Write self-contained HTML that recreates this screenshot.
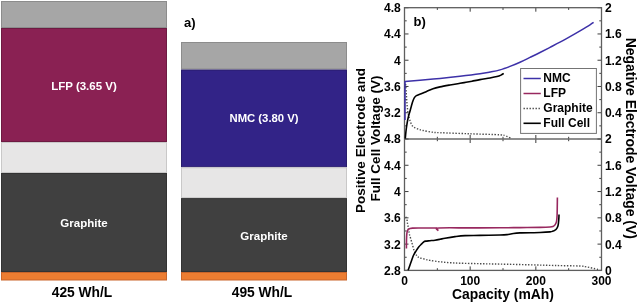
<!DOCTYPE html>
<html><head><meta charset="utf-8"><style>
html,body{margin:0;padding:0;background:#fff;width:637px;height:303px;overflow:hidden;}
svg{display:block;will-change:transform;}
</style></head><body>
<svg width="637" height="303" viewBox="0 0 637 303">
<rect x="1.5" y="1.5" width="165" height="26" fill="#a6a6a6" stroke="#8c8c8c" stroke-width="1"/>
<rect x="1.5" y="28.5" width="165" height="113" fill="#8a2153" stroke="#6e1a42" stroke-width="1"/>
<rect x="1.5" y="142.5" width="165" height="30" fill="#e7e6e6" stroke="#c9c8c8" stroke-width="1"/>
<rect x="1.5" y="173.5" width="165" height="98" fill="#404040" stroke="#333333" stroke-width="1"/>
<rect x="1.5" y="272.5" width="165" height="7.5" fill="#ed7d31" stroke="#c9652a" stroke-width="1"/>
<rect x="181.5" y="42.5" width="165" height="26.5" fill="#a6a6a6" stroke="#8c8c8c" stroke-width="1"/>
<rect x="181.5" y="70.0" width="165" height="96.80000000000001" fill="#322387" stroke="#281c6c" stroke-width="1"/>
<rect x="181.5" y="167.8" width="165" height="29.799999999999983" fill="#e7e6e6" stroke="#c9c8c8" stroke-width="1"/>
<rect x="181.5" y="198.6" width="165" height="72.9" fill="#404040" stroke="#333333" stroke-width="1"/>
<rect x="181.5" y="272.5" width="165" height="7.5" fill="#ed7d31" stroke="#c9652a" stroke-width="1"/>
<text x="84" y="89.5" font-family="&quot;Liberation Sans&quot;, sans-serif" font-weight="bold" font-size="11.5" fill="#fff" text-anchor="middle">LFP (3.65 V)</text>
<text x="84" y="227.3" font-family="&quot;Liberation Sans&quot;, sans-serif" font-weight="bold" font-size="11.5" fill="#fff" text-anchor="middle">Graphite</text>
<text x="82" y="296.8" font-family="&quot;Liberation Sans&quot;, sans-serif" font-weight="bold" font-size="13.8" fill="#000" text-anchor="middle">425 Wh/L</text>
<text x="264" y="122.3" font-family="&quot;Liberation Sans&quot;, sans-serif" font-weight="bold" font-size="11.3" fill="#fff" text-anchor="middle">NMC (3.80 V)</text>
<text x="264" y="239.8" font-family="&quot;Liberation Sans&quot;, sans-serif" font-weight="bold" font-size="11.5" fill="#fff" text-anchor="middle">Graphite</text>
<text x="262" y="296.6" font-family="&quot;Liberation Sans&quot;, sans-serif" font-weight="bold" font-size="13.8" fill="#000" text-anchor="middle">495 Wh/L</text>
<text x="184" y="26.5" font-family="&quot;Liberation Sans&quot;, sans-serif" font-weight="bold" font-size="13" fill="#000">a)</text>
<path d="M404.5,7.70h4 M601.5,7.70h-4 M404.5,20.83h2.2 M601.5,20.83h-2.2 M404.5,33.96h4 M601.5,33.96h-4 M404.5,47.09h2.2 M601.5,47.09h-2.2 M404.5,60.22h4 M601.5,60.22h-4 M404.5,73.35h2.2 M601.5,73.35h-2.2 M404.5,86.48h4 M601.5,86.48h-4 M404.5,99.61h2.2 M601.5,99.61h-2.2 M404.5,112.74h4 M601.5,112.74h-4 M404.5,125.87h2.2 M601.5,125.87h-2.2 M404.5,139.00h4 M601.5,139.00h-4 M404.50,7.7v4 M404.50,139.0v-4 M437.33,7.7v2.2 M437.33,139.0v-2.2 M470.17,7.7v4 M470.17,139.0v-4 M503.00,7.7v2.2 M503.00,139.0v-2.2 M535.83,7.7v4 M535.83,139.0v-4 M568.67,7.7v2.2 M568.67,139.0v-2.2 M601.50,7.7v4 M601.50,139.0v-4 M404.5,139.00h4 M601.5,139.00h-4 M404.5,152.14h2.2 M601.5,152.14h-2.2 M404.5,165.28h4 M601.5,165.28h-4 M404.5,178.42h2.2 M601.5,178.42h-2.2 M404.5,191.56h4 M601.5,191.56h-4 M404.5,204.70h2.2 M601.5,204.70h-2.2 M404.5,217.84h4 M601.5,217.84h-4 M404.5,230.98h2.2 M601.5,230.98h-2.2 M404.5,244.12h4 M601.5,244.12h-4 M404.5,257.26h2.2 M601.5,257.26h-2.2 M404.5,270.40h4 M601.5,270.40h-4 M404.50,139.0v4 M404.50,270.4v-4 M437.33,139.0v2.2 M437.33,270.4v-2.2 M470.17,139.0v4 M470.17,270.4v-4 M503.00,139.0v2.2 M503.00,270.4v-2.2 M535.83,139.0v4 M535.83,270.4v-4 M568.67,139.0v2.2 M568.67,270.4v-2.2 M601.50,139.0v4 M601.50,270.4v-4" stroke="#3c3c3c" stroke-width="1" fill="none"/>
<rect x="404.5" y="7.7" width="197.0" height="262.7" fill="none" stroke="#5e5e5e" stroke-width="1.3"/>
<line x1="404.5" y1="139.0" x2="601.5" y2="139.0" stroke="#6a6a6a" stroke-width="1.5"/>
<path d="M405.60,84.00 C405.70,85.33 406.02,89.50 406.20,92.00 C406.38,94.50 406.53,96.67 406.70,99.00 C406.87,101.33 406.98,103.78 407.20,106.00 C407.42,108.22 407.67,110.35 408.00,112.30 C408.33,114.25 408.77,116.03 409.20,117.70 C409.63,119.37 409.97,120.83 410.60,122.30 C411.23,123.77 411.85,125.42 413.00,126.50 C414.15,127.58 415.83,128.13 417.50,128.80 C419.17,129.47 420.42,129.92 423.00,130.50 C425.58,131.08 430.17,131.93 433.00,132.30 C435.83,132.67 433.83,132.45 440.00,132.70 C446.17,132.95 460.00,133.45 470.00,133.80 C480.00,134.15 494.17,134.48 500.00,134.80 C505.83,135.12 503.67,135.37 505.00,135.70 C506.33,136.03 507.00,136.38 508.00,136.80 C509.00,137.22 510.50,137.97 511.00,138.20" stroke="#4a4a4a" stroke-width="1.4" stroke-dasharray="1.4 1.6" fill="none"/>
<path d="M405.80,216.80 C406.00,217.33 406.73,218.98 407.00,220.00 C407.27,221.02 407.23,221.93 407.40,222.90 C407.57,223.87 407.83,224.82 408.00,225.80 C408.17,226.78 408.25,227.88 408.40,228.80 C408.55,229.72 408.73,230.38 408.90,231.30 C409.07,232.22 409.12,233.13 409.40,234.30 C409.68,235.47 410.07,236.47 410.60,238.30 C411.13,240.13 411.92,242.98 412.60,245.30 C413.28,247.62 413.88,250.35 414.70,252.20 C415.52,254.05 416.62,255.45 417.50,256.40 C418.38,257.35 418.75,257.43 420.00,257.90 C421.25,258.37 423.33,258.78 425.00,259.20 C426.67,259.62 427.50,259.97 430.00,260.40 C432.50,260.83 436.67,261.42 440.00,261.80 C443.33,262.18 446.67,262.47 450.00,262.70 C453.33,262.93 455.00,263.03 460.00,263.20 C465.00,263.37 473.33,263.55 480.00,263.70 C486.67,263.85 491.67,263.92 500.00,264.10 C508.33,264.28 520.83,264.57 530.00,264.80 C539.17,265.03 546.67,265.30 555.00,265.50 C563.33,265.70 575.00,265.82 580.00,266.00 C585.00,266.18 583.33,266.33 585.00,266.60 C586.67,266.87 588.33,267.23 590.00,267.60 C591.67,267.97 593.67,268.48 595.00,268.80 C596.33,269.12 597.50,269.38 598.00,269.50" stroke="#4a4a4a" stroke-width="1.4" stroke-dasharray="1.4 1.6" fill="none"/>
<path d="M405.00,120.00 C405.00,113.58 405.00,87.92 405.00,81.50 C407.50,81.28 414.17,80.72 420.00,80.20 C425.83,79.68 433.33,79.05 440.00,78.40 C446.67,77.75 453.33,77.07 460.00,76.30 C466.67,75.53 475.00,74.50 480.00,73.80 C485.00,73.10 486.67,72.75 490.00,72.10 C493.33,71.45 496.67,70.85 500.00,69.90 C503.33,68.95 506.67,67.68 510.00,66.40 C513.33,65.12 516.67,63.70 520.00,62.20 C523.33,60.70 526.67,59.02 530.00,57.40 C533.33,55.78 536.67,54.17 540.00,52.50 C543.33,50.83 546.67,49.12 550.00,47.40 C553.33,45.68 556.67,44.00 560.00,42.20 C563.33,40.40 566.67,38.50 570.00,36.60 C573.33,34.70 576.67,32.77 580.00,30.80 C583.33,28.83 587.73,26.22 590.00,24.80 C592.27,23.38 593.00,22.72 593.60,22.30" stroke="#3d31a8" stroke-width="1.5" fill="none" stroke-linejoin="round"/>
<path d="M405.30,138.60 C405.40,137.50 405.68,134.02 405.90,132.00 C406.12,129.98 406.33,128.33 406.60,126.50 C406.87,124.67 407.17,122.75 407.50,121.00 C407.83,119.25 408.20,117.58 408.60,116.00 C409.00,114.42 409.43,113.17 409.90,111.50 C410.37,109.83 410.90,107.75 411.40,106.00 C411.90,104.25 412.40,102.40 412.90,101.00 C413.40,99.60 413.82,98.50 414.40,97.60 C414.98,96.70 415.27,96.25 416.40,95.60 C417.53,94.95 419.50,94.40 421.20,93.70 C422.90,93.00 424.63,92.23 426.60,91.40 C428.57,90.57 430.77,89.45 433.00,88.70 C435.23,87.95 437.17,87.52 440.00,86.90 C442.83,86.28 446.67,85.60 450.00,85.00 C453.33,84.40 457.33,83.75 460.00,83.30 C462.67,82.85 464.00,82.65 466.00,82.30 C468.00,81.95 469.67,81.65 472.00,81.20 C474.33,80.75 477.00,80.13 480.00,79.60 C483.00,79.07 487.17,78.50 490.00,78.00 C492.83,77.50 495.17,77.08 497.00,76.60 C498.83,76.12 499.88,75.63 501.00,75.10 C502.12,74.57 503.25,73.68 503.70,73.40" stroke="#000" stroke-width="1.6" fill="none" stroke-linejoin="round"/>
<path d="M408.10,270.30 C408.52,269.13 409.73,265.73 410.60,263.30 C411.47,260.87 412.38,257.78 413.30,255.70 C414.22,253.62 415.17,252.30 416.10,250.80 C417.03,249.30 417.97,247.85 418.90,246.70 C419.83,245.55 420.89,244.72 421.70,243.90 C422.51,243.08 423.07,242.27 423.75,241.80 C424.43,241.33 424.76,241.28 425.80,241.10 C426.84,240.92 428.47,240.85 430.00,240.70 C431.53,240.55 433.33,240.43 435.00,240.20 C436.67,239.97 438.33,239.63 440.00,239.30 C441.67,238.97 442.50,238.65 445.00,238.20 C447.50,237.75 451.67,237.03 455.00,236.60 C458.33,236.17 460.83,235.80 465.00,235.60 C469.17,235.40 474.17,235.50 480.00,235.40 C485.83,235.30 495.50,235.13 500.00,235.00 C504.50,234.87 505.00,234.82 507.00,234.60 C509.00,234.38 509.83,233.98 512.00,233.70 C514.17,233.42 515.33,233.10 520.00,232.90 C524.67,232.70 535.00,232.67 540.00,232.50 C545.00,232.33 547.83,232.13 550.00,231.90 C552.17,231.67 552.00,231.50 553.00,231.10 C554.00,230.70 555.17,230.40 556.00,229.50 C556.83,228.60 557.53,227.43 558.00,225.70 C558.47,223.97 558.63,220.97 558.80,219.10 C558.97,217.23 558.97,215.27 559.00,214.50" stroke="#000" stroke-width="1.6" fill="none" stroke-linejoin="round"/>
<path d="M406.40,248.50 C406.42,247.08 406.43,242.42 406.50,240.00 C406.57,237.58 406.65,235.50 406.80,234.00 C406.95,232.50 407.13,231.77 407.40,231.00 C407.67,230.23 407.97,229.82 408.40,229.40 C408.83,228.98 409.32,228.72 410.00,228.50 C410.68,228.28 410.83,228.18 412.50,228.10 C414.17,228.02 418.75,228.02 420.00,228.00 C422.82,228.00 434.08,228.00 436.90,228.00 C437.07,228.38 437.73,229.92 437.90,230.30 C438.07,229.92 433.55,228.40 438.90,228.00 C444.25,227.60 459.82,227.93 470.00,227.90 C480.18,227.87 491.67,227.85 500.00,227.80 C508.33,227.75 513.33,227.67 520.00,227.60 C526.67,227.53 535.00,227.50 540.00,227.40 C545.00,227.30 547.83,227.17 550.00,227.00 C552.17,226.83 552.17,226.75 553.00,226.40 C553.83,226.05 554.42,225.70 555.00,224.90 C555.58,224.10 556.15,223.25 556.50,221.60 C556.85,219.95 556.95,219.02 557.10,215.00 C557.25,210.98 557.35,200.42 557.40,197.50" stroke="#98285f" stroke-width="1.6" fill="none" stroke-linejoin="round"/>
<rect x="520.6" y="68.5" width="75.8" height="64.9" fill="#fff" stroke="#747474" stroke-width="1"/>
<line x1="523.5" y1="78.5" x2="540.8" y2="78.5" stroke="#3d31a8" stroke-width="1.5"/>
<line x1="523.5" y1="93.5" x2="540.8" y2="93.5" stroke="#98285f" stroke-width="1.5"/>
<line x1="523.5" y1="108.5" x2="540.8" y2="108.5" stroke="#4a4a4a" stroke-width="1.4" stroke-dasharray="1.4 1.6"/>
<line x1="523.5" y1="123.3" x2="540.8" y2="123.3" stroke="#000" stroke-width="1.6"/>
<text x="543.3" y="82.4" font-family="&quot;Liberation Sans&quot;, sans-serif" font-weight="bold" font-size="12" fill="#000">NMC</text>
<text x="543.3" y="97.4" font-family="&quot;Liberation Sans&quot;, sans-serif" font-weight="bold" font-size="12" fill="#000">LFP</text>
<text x="543.3" y="112.4" font-family="&quot;Liberation Sans&quot;, sans-serif" font-weight="bold" font-size="12" fill="#000">Graphite</text>
<text x="543.3" y="127.2" font-family="&quot;Liberation Sans&quot;, sans-serif" font-weight="bold" font-size="12" fill="#000">Full Cell</text>
<text x="413.6" y="26.4" font-family="&quot;Liberation Sans&quot;, sans-serif" font-weight="bold" font-size="13" fill="#000">b)</text>
<text x="400.8" y="12.1" font-family="&quot;Liberation Sans&quot;, sans-serif" font-weight="bold" font-size="12.1" fill="#000" text-anchor="end">4.8</text>
<text x="400.8" y="38.4" font-family="&quot;Liberation Sans&quot;, sans-serif" font-weight="bold" font-size="12.1" fill="#000" text-anchor="end">4.4</text>
<text x="400.8" y="64.6" font-family="&quot;Liberation Sans&quot;, sans-serif" font-weight="bold" font-size="12.1" fill="#000" text-anchor="end">4</text>
<text x="400.8" y="90.9" font-family="&quot;Liberation Sans&quot;, sans-serif" font-weight="bold" font-size="12.1" fill="#000" text-anchor="end">3.6</text>
<text x="400.8" y="117.1" font-family="&quot;Liberation Sans&quot;, sans-serif" font-weight="bold" font-size="12.1" fill="#000" text-anchor="end">3.2</text>
<text x="400.8" y="143.4" font-family="&quot;Liberation Sans&quot;, sans-serif" font-weight="bold" font-size="12.1" fill="#000" text-anchor="end">4.8</text>
<text x="400.8" y="169.7" font-family="&quot;Liberation Sans&quot;, sans-serif" font-weight="bold" font-size="12.1" fill="#000" text-anchor="end">4.4</text>
<text x="400.8" y="196.0" font-family="&quot;Liberation Sans&quot;, sans-serif" font-weight="bold" font-size="12.1" fill="#000" text-anchor="end">4</text>
<text x="400.8" y="222.2" font-family="&quot;Liberation Sans&quot;, sans-serif" font-weight="bold" font-size="12.1" fill="#000" text-anchor="end">3.6</text>
<text x="400.8" y="248.5" font-family="&quot;Liberation Sans&quot;, sans-serif" font-weight="bold" font-size="12.1" fill="#000" text-anchor="end">3.2</text>
<text x="400.8" y="274.8" font-family="&quot;Liberation Sans&quot;, sans-serif" font-weight="bold" font-size="12.1" fill="#000" text-anchor="end">2.8</text>
<text x="604.9" y="12.1" font-family="&quot;Liberation Sans&quot;, sans-serif" font-weight="bold" font-size="12.1" fill="#000">2</text>
<text x="604.9" y="38.4" font-family="&quot;Liberation Sans&quot;, sans-serif" font-weight="bold" font-size="12.1" fill="#000">1.6</text>
<text x="604.9" y="64.6" font-family="&quot;Liberation Sans&quot;, sans-serif" font-weight="bold" font-size="12.1" fill="#000">1.2</text>
<text x="604.9" y="90.9" font-family="&quot;Liberation Sans&quot;, sans-serif" font-weight="bold" font-size="12.1" fill="#000">0.8</text>
<text x="604.9" y="117.1" font-family="&quot;Liberation Sans&quot;, sans-serif" font-weight="bold" font-size="12.1" fill="#000">0.4</text>
<text x="604.9" y="143.4" font-family="&quot;Liberation Sans&quot;, sans-serif" font-weight="bold" font-size="12.1" fill="#000">2</text>
<text x="604.9" y="169.7" font-family="&quot;Liberation Sans&quot;, sans-serif" font-weight="bold" font-size="12.1" fill="#000">1.6</text>
<text x="604.9" y="196.0" font-family="&quot;Liberation Sans&quot;, sans-serif" font-weight="bold" font-size="12.1" fill="#000">1.2</text>
<text x="604.9" y="222.2" font-family="&quot;Liberation Sans&quot;, sans-serif" font-weight="bold" font-size="12.1" fill="#000">0.8</text>
<text x="604.9" y="248.5" font-family="&quot;Liberation Sans&quot;, sans-serif" font-weight="bold" font-size="12.1" fill="#000">0.4</text>
<text x="604.9" y="274.8" font-family="&quot;Liberation Sans&quot;, sans-serif" font-weight="bold" font-size="12.1" fill="#000">0</text>
<text x="404.5" y="284.5" font-family="&quot;Liberation Sans&quot;, sans-serif" font-weight="bold" font-size="12" fill="#000" text-anchor="middle">0</text>
<text x="470.2" y="284.5" font-family="&quot;Liberation Sans&quot;, sans-serif" font-weight="bold" font-size="12" fill="#000" text-anchor="middle">100</text>
<text x="535.8" y="284.5" font-family="&quot;Liberation Sans&quot;, sans-serif" font-weight="bold" font-size="12" fill="#000" text-anchor="middle">200</text>
<text x="601.5" y="284.5" font-family="&quot;Liberation Sans&quot;, sans-serif" font-weight="bold" font-size="12" fill="#000" text-anchor="middle">300</text>
<text x="503" y="299.1" font-family="&quot;Liberation Sans&quot;, sans-serif" font-weight="bold" font-size="13.9" fill="#000" text-anchor="middle">Capacity (mAh)</text>
<text transform="translate(364.6,140.5) rotate(-90)" font-family="&quot;Liberation Sans&quot;, sans-serif" font-weight="bold" font-size="13.5" fill="#000" text-anchor="middle">Positive Electrode and</text>
<text transform="translate(379.7,138.5) rotate(-90)" font-family="&quot;Liberation Sans&quot;, sans-serif" font-weight="bold" font-size="13.5" fill="#000" text-anchor="middle">Full Cell Voltage (V)</text>
<text transform="translate(625.7,138.3) rotate(90)" font-family="&quot;Liberation Sans&quot;, sans-serif" font-weight="bold" font-size="13.95" fill="#000" text-anchor="middle">Negative Electrode Voltage (V)</text>
</svg>
</body></html>
